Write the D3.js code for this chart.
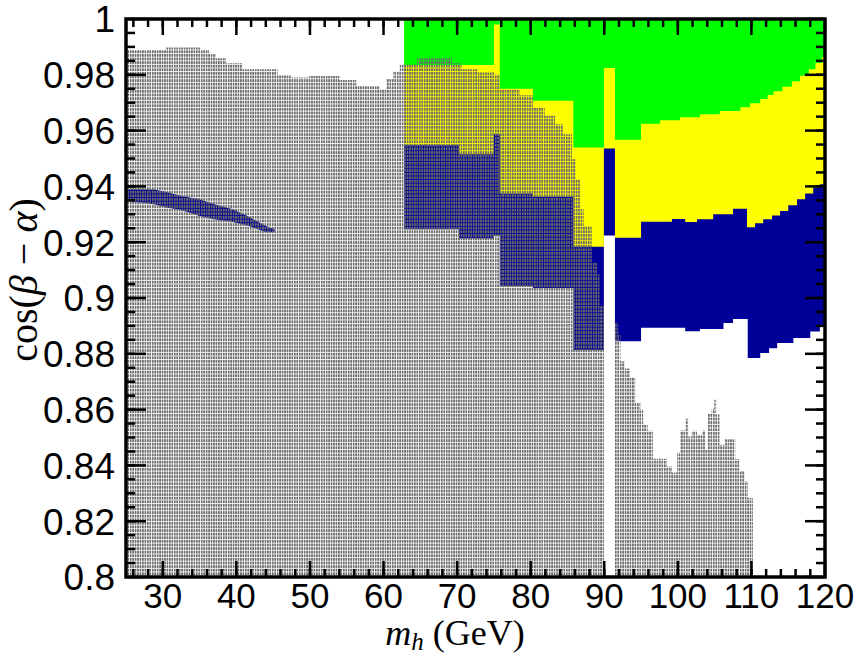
<!DOCTYPE html>
<html>
<head>
<meta charset="utf-8">
<script src="https://cdn.jsdelivr.net/npm/d3@7"></script>
<style>
  body { margin: 0; background: #fff; }
  svg { display: block; }
</style>
</head>
<body>
<svg width="859" height="656"></svg>
<script>
// axis ticks
const xMajor = [30, 40, 50, 60, 70, 80, 90, 100, 110, 120];
const xMinor = d3.range(26, 120, 2);
const yMajor = [0.8, 0.82, 0.84, 0.86, 0.88, 0.9, 0.92, 0.94, 0.96, 0.98, 1];
const yLabels = ["0.8", "0.82", "0.84", "0.86", "0.88", "0.9", "0.92", "0.94", "0.96", "0.98", "1"];
const yMinor = d3.range(0.805, 1, 0.005);

// region boundaries, [m_h, cos(b-a)] read as steps from the left edge
// lower edge of the green region
const greenLow = [
  [62.8, 0.9835], [75.0, 0.998], [75.8, 0.975], [80.3, 0.9707], [85.8, 0.9539],
  [89.95, 0.9824], [91.45, 0.9567], [95.0, 0.9625], [97.6, 0.9637], [100.3, 0.9648],
  [103.0, 0.9659], [105.7, 0.967], [108.5, 0.9684], [109.8, 0.9698], [111.2, 0.9713],
  [112.2, 0.9728], [113.0, 0.9741], [114.2, 0.9757], [115.5, 0.9777], [116.6, 0.9797],
  [117.8, 0.982], [118.7, 0.9842], [119.6, 0.9864], [120, 0.988]
];
// lower edge of the yellow region
const yellowLow = [
  [62.8, 0.9548], [70.25, 0.9515], [75.0, 0.9587], [75.8, 0.9375], [80.3, 0.9363],
  [85.8, 0.9184], [89.95, 0.9536], [91.45, 0.9216], [95.0, 0.9273], [99.2, 0.9283],
  [101.0, 0.9272], [102.6, 0.9282], [104.8, 0.93], [107.5, 0.932], [109.4, 0.9254],
  [110.5, 0.9268], [111.6, 0.9282], [112.8, 0.9296], [113.9, 0.9312], [115.0, 0.9332],
  [116.2, 0.9354], [117.3, 0.9375], [118.4, 0.9396], [119.3, 0.9408], [120, 0.9414]
];
// lower edge of the blue region
const blueLow = [
  [62.8, 0.9246], [70.25, 0.9213], [75.0, 0.9224], [75.8, 0.9042], [80.3, 0.9036],
  [85.8, 0.8813], [89.95, 0.9224], [91.45, 0.8845], [95.0, 0.8893], [101.0, 0.8881],
  [103.0, 0.8889], [106.2, 0.891], [107.5, 0.8925], [109.5, 0.8785], [111.2, 0.8803],
  [112.4, 0.882], [113.5, 0.8839], [115.7, 0.8857], [118.0, 0.888], [119.3, 0.8899],
  [120, 0.8917]
];
// thin blue band at low mass: [m_h, top, bottom]
const lowBand = [
  [25, 0.939, 0.9348], [27, 0.939, 0.9342], [29, 0.9388, 0.9335], [30.5, 0.938, 0.9324],
  [32.5, 0.9366, 0.9315], [35, 0.9354, 0.9294], [37, 0.9336, 0.9282], [39.5, 0.9318, 0.9272],
  [41.5, 0.9294, 0.926], [44, 0.9258, 0.9236], [45.2, 0.9246, 0.9236]
];
// upper edge of the grey scan points
const grayTop = [
  [25, 0.9889], [30.4, 0.9898], [35.2, 0.9889], [36.3, 0.9874], [37.2, 0.9859],
  [38.6, 0.9841], [40.8, 0.982], [45.6, 0.9799], [47.4, 0.979], [49.9, 0.9796],
  [54.0, 0.9781], [56.3, 0.976], [59.4, 0.9749], [60.4, 0.9785], [61.3, 0.9814],
  [62.2, 0.9838], [64.6, 0.9859], [69.3, 0.9841], [70.6, 0.982], [72.8, 0.9808],
  [75.0, 0.98], [75.8, 0.9749], [78.5, 0.9727], [80.3, 0.9683], [81.9, 0.9653],
  [83.3, 0.9623], [84.4, 0.9587], [85.6, 0.9497], [86.1, 0.9425], [86.7, 0.9318],
  [87.2, 0.9258], [88.3, 0.9127], [89.0, 0.9084], [89.4, 0.897], [89.95, 0.8],
  [91.45, 0.8912], [91.9, 0.8869], [92.2, 0.8773], [92.8, 0.8747], [93.5, 0.8715],
  [94.2, 0.8625], [94.9, 0.86], [95.3, 0.8546], [95.9, 0.8524], [96.6, 0.8424],
  [98.5, 0.8396], [99.2, 0.8375], [99.9, 0.8445], [100.3, 0.8525], [101.0, 0.8567],
  [101.4, 0.8504], [101.9, 0.8524], [102.6, 0.851], [103.3, 0.8525], [103.7, 0.8456],
  [104.1, 0.8585], [104.6, 0.8603], [104.9, 0.8636], [105.2, 0.8582], [105.7, 0.8474],
  [106.4, 0.8494], [107.8, 0.8422], [108.4, 0.838], [109.1, 0.8342], [109.5, 0.8283],
  [110.2, 0.8]
];

const svg = d3.select("svg");
const x = d3.scaleLinear().domain([25, 120]).range([126, 825]);
const y = d3.scaleLinear().domain([0.8, 1]).range([577, 19]);

const defs = svg.append("defs");
defs.append("clipPath").attr("id", "plot")
  .append("rect")
  .attr("x", x(25)).attr("y", y(1))
  .attr("width", x(120) - x(25)).attr("height", y(0.8) - y(1));

const cells = defs.append("pattern")
  .attr("id", "cells")
  .attr("patternUnits", "userSpaceOnUse")
  .attr("width", 2.45).attr("height", 3.6);
cells.append("rect").attr("width", 1.7).attr("height", 2.8).attr("fill", "#6a6a6a");

const g = svg.append("g").attr("clip-path", "url(#plot)");

// fill from the top of the frame down to a boundary
function fillDown(pts){
  return d3.area()
    .curve(d3.curveStepAfter)
    .x(d => x(d[0]))
    .y0(y(1))
    .y1(d => y(d[1]))(pts);
}

g.append("path").attr("d", fillDown(blueLow)).attr("fill", "#000099");
g.append("path").attr("d", fillDown(yellowLow)).attr("fill", "#ffff00");
g.append("path").attr("d", fillDown(greenLow)).attr("fill", "#00ff00");

g.append("path")
  .attr("d", d3.area()
    .x(d => x(d[0]))
    .y0(d => y(d[2]))
    .y1(d => y(d[1]))(lowBand))
  .attr("fill", "#000099");

g.append("path")
  .attr("d", d3.area()
    .curve(d3.curveStepAfter)
    .x(d => x(d[0]))
    .y0(y(0.8))
    .y1(d => y(d[1]))(grayTop))
  .attr("fill", "url(#cells)");

// frame and ticks
const axes = svg.append("g").attr("stroke", "#000").attr("stroke-width", 2.5);

function xTicks(vals, y0, len){
  axes.append("g").selectAll("line").data(vals).join("line")
    .attr("x1", d => x(d)).attr("x2", d => x(d))
    .attr("y1", y0).attr("y2", y0 + len);
}
function yTicks(vals, x0, len){
  axes.append("g").selectAll("line").data(vals).join("line")
    .attr("x1", x0).attr("x2", x0 + len)
    .attr("y1", d => y(d)).attr("y2", d => y(d));
}
xTicks(xMajor, y(0.8), -16);
xTicks(xMinor, y(0.8), -8);
xTicks(xMajor, y(1), 16);
xTicks(xMinor, y(1), 8);
yTicks(yMajor, x(25), 20);
yTicks(yMinor, x(25), 9);
yTicks(yMajor, x(120), -20);
yTicks(yMinor, x(120), -9);

svg.append("rect")
  .attr("x", x(25)).attr("y", y(1))
  .attr("width", x(120) - x(25)).attr("height", y(0.8) - y(1))
  .attr("fill", "none").attr("stroke", "#000").attr("stroke-width", 3.5);

// tick labels
const sans = "'Liberation Sans', Arial, Helvetica, sans-serif";
svg.append("g").selectAll("text").data(xMajor).join("text")
  .attr("x", d => x(d)).attr("y", 608)
  .attr("text-anchor", "middle")
  .attr("font-family", sans).attr("font-size", 35)
  .text(d => d);

svg.append("g").selectAll("text").data(yMajor).join("text")
  .attr("x", 115).attr("y", d => y(d))
  .attr("dy", "0.36em")
  .attr("text-anchor", "end")
  .attr("font-family", sans).attr("font-size", 37)
  .text((d, i) => yLabels[i]);

// axis titles
const serif = "'Liberation Serif', 'Times New Roman', Times, serif";
const xt = svg.append("text")
  .attr("x", 455).attr("y", 645)
  .attr("text-anchor", "middle")
  .attr("font-family", serif).attr("font-size", 36);
xt.append("tspan").attr("font-style", "italic").text("m");
xt.append("tspan").attr("font-style", "italic").attr("font-size", 25).attr("dy", 5).text("h");
xt.append("tspan").attr("dy", -5).text(" (GeV)");

const yt = svg.append("text")
  .attr("transform", "translate(37,280) rotate(-90)")
  .attr("text-anchor", "middle")
  .attr("font-family", serif).attr("font-size", 40);
yt.append("tspan").text("cos(");
yt.append("tspan").attr("font-style", "italic").text("β");
yt.append("tspan").text(" − ");
yt.append("tspan").attr("font-style", "italic").text("α");
yt.append("tspan").text(")");
</script>
</body>
</html>
